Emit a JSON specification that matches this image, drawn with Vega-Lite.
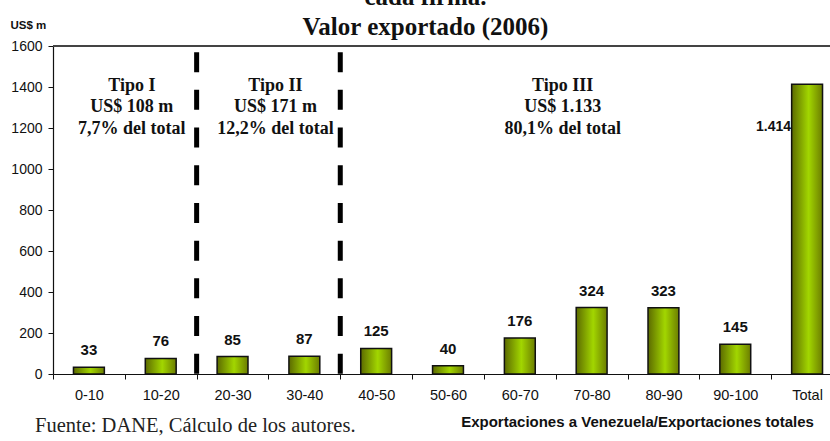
{
  "$schema": "https://vega.github.io/schema/vega-lite/v6.json",
  "autosize": {"type": "none"},
  "padding": {"left": 53, "top": 46, "right": 0, "bottom": 67},
  "width": 777,
  "height": 328,
  "background": "white",
  "config": {"view": {"stroke": null}},
  "title": {
    "text": ["cada firma.", "Valor exportado (2006)"],
    "font": "Liberation Serif",
    "fontSize": 25,
    "fontWeight": "bold",
    "lineHeight": 30,
    "color": "#111",
    "anchor": "middle",
    "dx": -16,
    "baseline": "bottom",
    "offset": -46
  },
  "datasets": {
    "bars": [
      {"cat": "0-10", "value": 33, "label": "33"},
      {"cat": "10-20", "value": 76, "label": "76"},
      {"cat": "20-30", "value": 85, "label": "85"},
      {"cat": "30-40", "value": 87, "label": "87"},
      {"cat": "40-50", "value": 125, "label": "125"},
      {"cat": "50-60", "value": 40, "label": "40"},
      {"cat": "60-70", "value": 176, "label": "176"},
      {"cat": "70-80", "value": 324, "label": "324"},
      {"cat": "80-90", "value": 323, "label": "323"},
      {"cat": "90-100", "value": 145, "label": "145"},
      {"cat": "Total", "value": 1414, "label": "1.414"}
    ],
    "dividers": [{"cat": "20-30"}, {"cat": "40-50"}],
    "groups": [
      {"cat": "10-20", "text": "Tipo I|US$ 108 m|7,7% del total"},
      {"cat": "30-40", "text": "Tipo II|US$ 171 m|12,2% del total"},
      {"cat": "70-80", "text": "Tipo III|US$ 1.133|80,1% del total"}
    ],
    "notes": [{"cat": "0-10", "text": "Fuente: DANE, Cálculo de los autores."}]
  },
  "layer": [
    {
      "data": {"name": "bars"},
      "mark": {"type": "rule", "color": "#444", "strokeWidth": 1.5},
      "encoding": {"y": {"datum": 1600, "type": "quantitative"}}
    },
    {
      "data": {"name": "bars"},
      "mark": {
        "type": "bar",
        "width": {"band": 0.43},
        "stroke": "#111",
        "strokeWidth": 1.5,
        "color": {
          "gradient": "linear",
          "x1": 0, "x2": 1, "y1": 0, "y2": 0,
          "stops": [
            {"offset": 0, "color": "#5c6a00"},
            {"offset": 0.55, "color": "#a2d600"},
            {"offset": 1, "color": "#6c7d00"}
          ]
        }
      },
      "encoding": {
        "x": {
          "field": "cat",
          "type": "nominal",
          "scale": {
            "domain": ["0-10", "10-20", "20-30", "30-40", "40-50", "50-60", "60-70", "70-80", "80-90", "90-100", "Total"],
            "range": [0, 790],
            "paddingInner": 0,
            "paddingOuter": 0
          },
          "axis": {
            "title": "Exportaciones a Venezuela/Exportaciones totales",
            "titleFont": "Liberation Sans",
            "titleFontSize": 15,
            "titleFontWeight": "bold",
            "titleColor": "#111",
            "titleX": 584,
            "titleY": 47,
            "titleBaseline": "middle",
            "titleAnchor": "middle",
            "titleAlign": "center",
            "labelAngle": 0,
            "labelFont": "Liberation Sans",
            "labelFontSize": 14.5,
            "labelColor": "#111",
            "labelPadding": 9,
            "tickBand": "extent",
            "tickSize": 5,
            "tickColor": "#111",
            "domainColor": "#111",
            "domainWidth": 1.2,
            "labelOverlap": false
          }
        },
        "y": {
          "field": "value",
          "type": "quantitative",
          "scale": {"domain": [0, 1600], "nice": false, "zero": true},
          "axis": {
            "values": [0, 200, 400, 600, 800, 1000, 1200, 1400, 1600],
            "format": "d",
            "grid": false,
            "title": "US$ m",
            "titleAngle": 0,
            "titleX": -43,
            "titleY": -21,
            "titleAlign": "left",
            "titleBaseline": "middle",
            "titleFont": "Liberation Sans",
            "titleFontSize": 11.5,
            "titleFontWeight": "bold",
            "titleColor": "#111",
            "labelFont": "Liberation Sans",
            "labelFontSize": 14,
            "labelColor": "#111",
            "labelPadding": 6,
            "tickSize": 5,
            "tickColor": "#111",
            "domainColor": "#111",
            "domainWidth": 1.2
          }
        }
      }
    },
    {
      "data": {"name": "bars"},
      "transform": [{"filter": "datum.cat !== 'Total'"}],
      "mark": {"type": "text", "font": "Liberation Sans", "fontSize": 15, "fontWeight": "bold", "color": "#111", "baseline": "alphabetic", "dy": -12},
      "encoding": {
        "x": {"field": "cat", "type": "nominal"},
        "y": {"field": "value", "type": "quantitative"},
        "text": {"field": "label"}
      }
    },
    {
      "data": {"name": "bars"},
      "transform": [{"filter": "datum.cat === 'Total'"}],
      "mark": {"type": "text", "font": "Liberation Sans", "fontSize": 14, "fontWeight": "bold", "color": "#111", "align": "right", "baseline": "middle", "dx": -16, "dy": 43},
      "encoding": {
        "x": {"field": "cat", "type": "nominal"},
        "y": {"field": "value", "type": "quantitative"},
        "text": {"field": "label"}
      }
    },
    {
      "data": {"name": "dividers"},
      "mark": {"type": "rule", "color": "#000", "strokeWidth": 5, "strokeDash": [20, 17.7], "strokeCap": "butt"},
      "encoding": {
        "x": {"field": "cat", "type": "nominal", "bandPosition": 0},
        "y": {"datum": 1570, "type": "quantitative"},
        "y2": {"datum": 0}
      }
    },
    {
      "data": {"name": "groups"},
      "mark": {"type": "text", "font": "Liberation Serif", "fontSize": 18, "fontWeight": "bold", "color": "#111", "lineBreak": "|", "lineHeight": 21.5, "baseline": "middle", "align": "center", "dx": 7},
      "encoding": {
        "x": {"field": "cat", "type": "nominal", "bandPosition": 0},
        "y": {"datum": 1405, "type": "quantitative"},
        "text": {"field": "text"}
      }
    },
    {
      "data": {"name": "notes"},
      "mark": {"type": "text", "font": "Liberation Serif", "fontSize": 20.5, "color": "#222", "align": "left", "baseline": "alphabetic", "dx": -18},
      "encoding": {
        "x": {"field": "cat", "type": "nominal", "bandPosition": 0},
        "y": {"datum": -283, "type": "quantitative"},
        "text": {"field": "text"}
      }
    }
  ]
}
